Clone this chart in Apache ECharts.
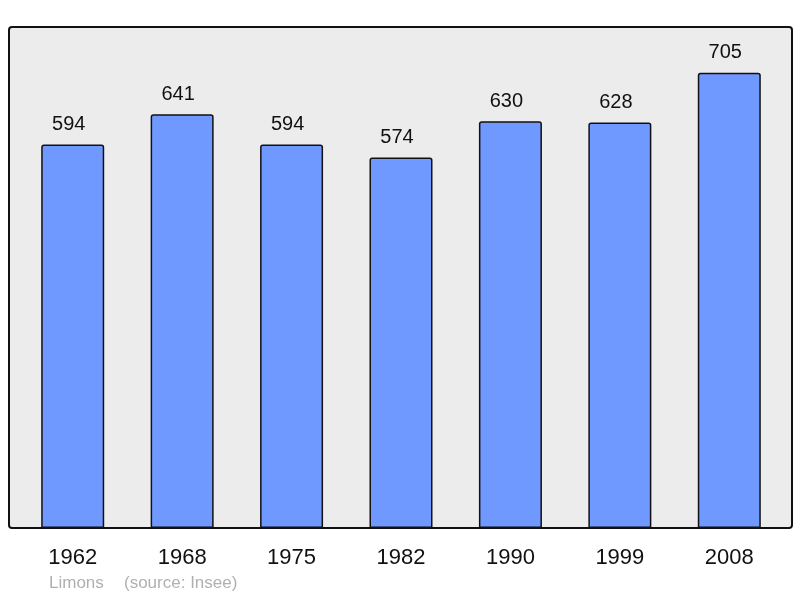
<!DOCTYPE html>
<html><head><meta charset="utf-8">
<script src="https://cdn.jsdelivr.net/npm/echarts@6/dist/echarts.min.js"></script>
<style>html,body{margin:0;padding:0;background:#fff}#c{width:800px;height:598px}</style>
</head><body><div id="c"></div>
<script>
const categories = ['1962','1968','1975','1982','1990','1999','2008'];
const population = [594, 641, 594, 574, 630, 628, 705];
const chart = echarts.init(document.getElementById('c'));
chart.setOption({
  animation: false,
  textStyle: {fontFamily: 'Liberation Sans, Arial, sans-serif'},
  graphic: [
    {type: 'rect', z: -10, shape: {x: 9, y: 27, width: 783, height: 501, r: 3},
     style: {fill: '#ececec', stroke: '#111', lineWidth: 2}},
    {type: 'text', left: 49, top: 575, style: {text: 'Limons', fill: '#b0b0b0', font: '17px Liberation Sans, Arial, sans-serif'}},
    {type: 'text', left: 124, top: 575, style: {text: '(source: Insee)', fill: '#b0b0b0', font: '17px Liberation Sans, Arial, sans-serif'}}
  ],
  grid: {left: 18, right: 16, top: 27, bottom: 70},
  xAxis: {type: 'category', data: categories,
    axisLine: {show: false}, axisTick: {show: false},
    axisLabel: {color: '#111', fontSize: 22, margin: 19}},
  yAxis: {type: 'value', min: 0, max: 776, show: false, splitLine: {show: false}},
  series: [{type: 'bar', data: population, barWidth: 63,
    itemStyle: {color: '#7099ff', borderColor: '#111', borderWidth: 1.5, borderRadius: [2,2,0,0]},
    label: {show: true, position: 'top', distance: 10, offset: [-4, 0], color: '#111', fontSize: 20}}]
});
</script></body></html>
